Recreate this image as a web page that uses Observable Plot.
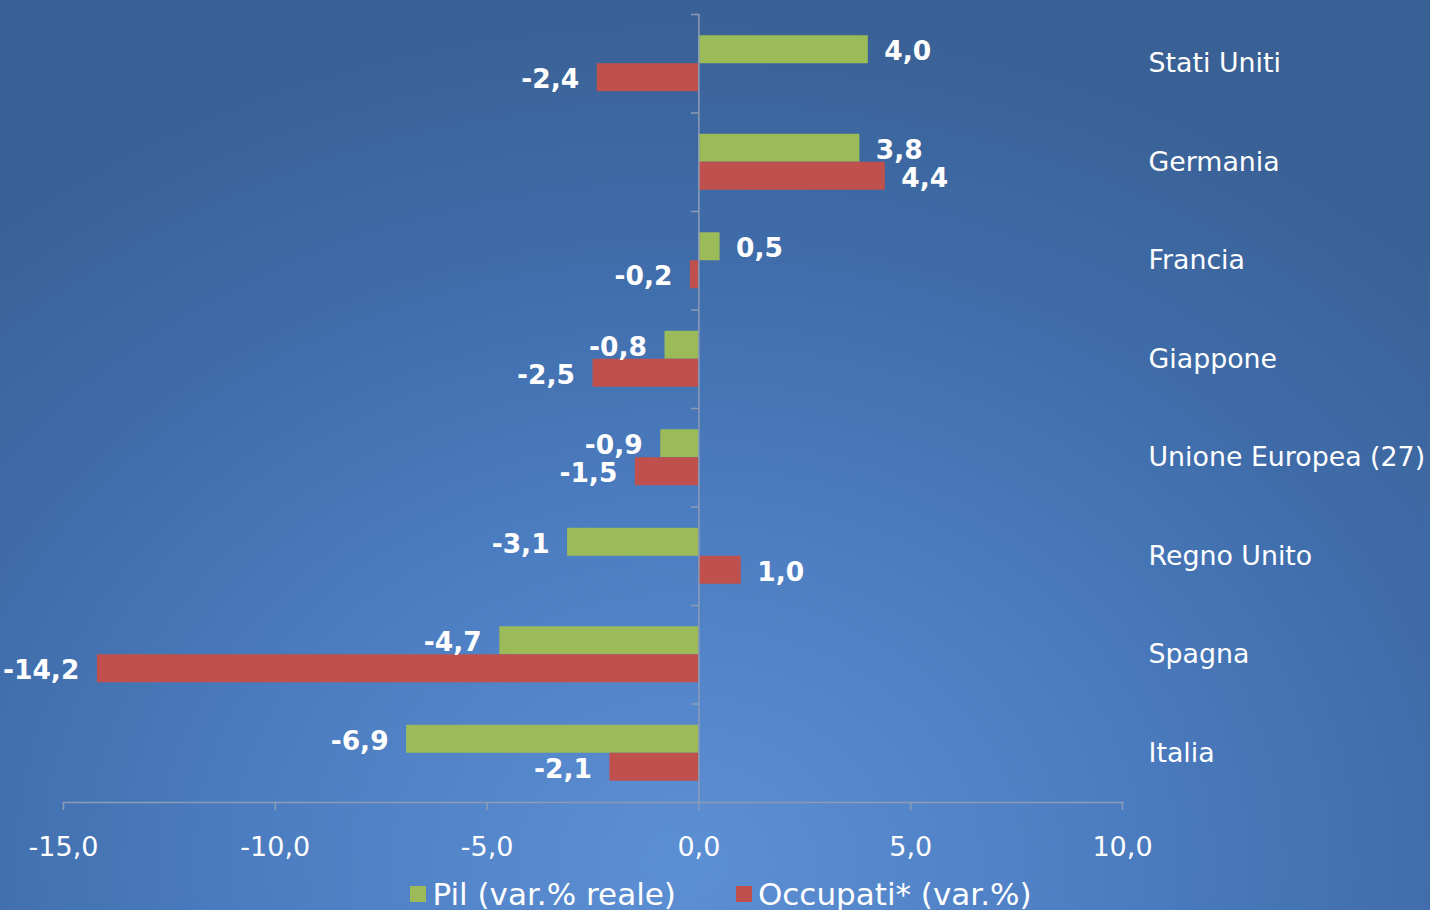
<!DOCTYPE html>
<html>
<head>
<meta charset="utf-8">
<script src="https://cdn.jsdelivr.net/npm/d3@7"></script>
<script src="https://cdn.jsdelivr.net/npm/@observablehq/plot@0.6"></script>
<style>
  html, body { margin: 0; padding: 0; }
  body {
    width: 1430px; height: 910px; overflow: hidden;
    background: radial-gradient(ellipse 75% 95% at 48% 95%, #5d8fd4 0%, #4c7dc1 40%, #3f6ca9 72%, #3a6195 100%);
    font-family: "DejaVu Sans", Verdana, sans-serif;
  }
  #chart svg { display: block; }
  #legend {
    position: relative; height: 40px; display: flex; justify-content: center; align-items: center;
    color: #ffffff; font-size: 31px; line-height: 40px; padding-left: 12px; margin-top: 6px;
  }
  #legend .item { display: flex; align-items: center; margin: 0 30px; white-space: nowrap; }
  #legend .sw { display: inline-block; width: 16px; height: 16px; margin-right: 6px; }
</style>
</head>
<body>
<div id="chart"></div>
<div id="legend"></div>
<script>
const countries = ["Stati Uniti", "Germania", "Francia", "Giappone", "Unione Europea (27)", "Regno Unito", "Spagna", "Italia"];
const seriesNames = ["Pil (var.% reale)", "Occupati* (var.%)"];
const seriesColors = ["#9BBB59", "#C0504D"];
const pil = [4.0, 3.8, 0.5, -0.8, -0.9, -3.1, -4.7, -6.9];
const occupati = [-2.4, 4.4, -0.2, -2.5, -1.5, 1.0, -14.2, -2.1];
const xTicks = [-15, -10, -5, 0, 5, 10];

const data = [];
countries.forEach((c, i) => {
  data.push({country: c, series: seriesNames[0], value: pil[i]});
  data.push({country: c, series: seriesNames[1], value: occupati[i]});
});

const fmt = v => v.toFixed(1).replace(".", ",");
const axisGray = "#8d9cb6";

const tickSymbol = {
  draw(context) { context.moveTo(-8, 0); context.lineTo(0, 0); }
};

const chart = Plot.plot({
  width: 1430,
  height: 868,
  marginLeft: 63,
  marginRight: 308,
  marginTop: 14,
  marginBottom: 66,
  style: {background: "transparent", fontFamily: "DejaVu Sans, Verdana, sans-serif", color: "white", overflow: "visible"},
  x: {domain: [-15, 10]},
  y: {domain: seriesNames, paddingInner: 0, paddingOuter: 0.76, round: false, axis: null},
  fy: {domain: countries, padding: 0, round: false, label: null},
  color: {domain: seriesNames, range: seriesColors},
  marks: [
    Plot.barX(data, {x: "value", y: "series", fy: "country", fill: "series"}),
    Plot.ruleX([0], {stroke: axisGray, strokeWidth: 1.5}),
    Plot.dot([0], {x: d => d, frameAnchor: "top", symbol: tickSymbol, fill: "none", stroke: axisGray, strokeWidth: 1.5}),
    Plot.frame({anchor: "bottom", stroke: axisGray, strokeWidth: 1.5, facetAnchor: "bottom"}),
    Plot.axisX({ticks: xTicks, tickSize: 8, tickPadding: 26, fontSize: 27, tickFormat: d => fmt(d), stroke: axisGray, strokeWidth: 1.5, fill: "white", label: null}),
    Plot.axisFy({anchor: "right", tickSize: 0, tickPadding: 26, fontSize: 26.8, fill: "white", textAnchor: "start", label: null}),
    Plot.text(data.filter(d => d.value >= 0), {x: "value", y: "series", fy: "country", text: d => fmt(d.value), textAnchor: "start", dx: 16, dy: 2, fill: "white", fontWeight: "bold", fontSize: 26.5}),
    Plot.text(data.filter(d => d.value < 0), {x: "value", y: "series", fy: "country", text: d => fmt(d.value), textAnchor: "end", dx: -18, dy: 2, fill: "white", fontWeight: "bold", fontSize: 26.5})
  ]
});
document.getElementById("chart").appendChild(chart);

const legend = document.getElementById("legend");
seriesNames.forEach((name, i) => {
  const item = document.createElement("span");
  item.className = "item";
  const sw = document.createElement("span");
  sw.className = "sw";
  sw.style.background = seriesColors[i];
  item.appendChild(sw);
  item.appendChild(document.createTextNode(name));
  legend.appendChild(item);
});
</script>
</body>
</html>
